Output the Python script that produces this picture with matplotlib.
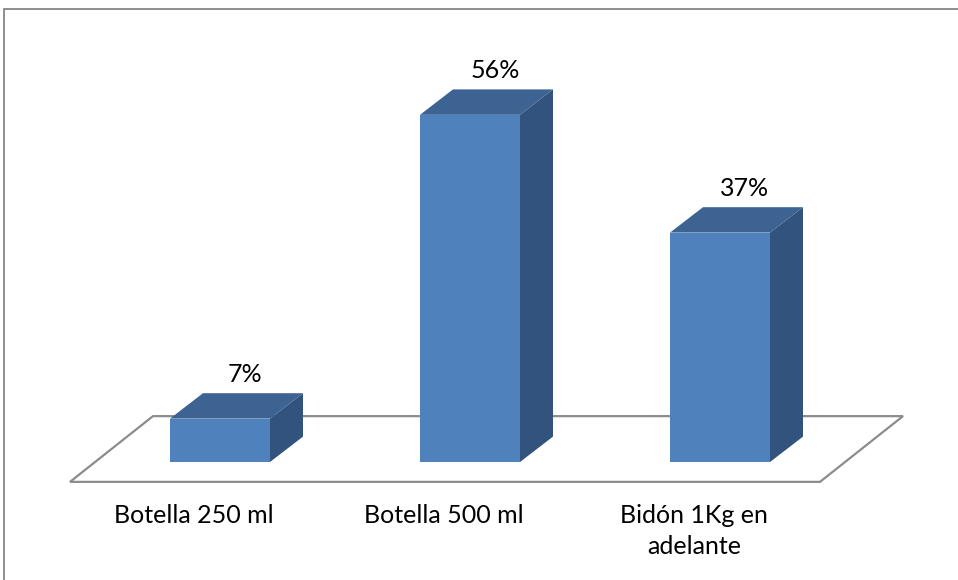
import matplotlib
matplotlib.use("Agg")
import matplotlib.pyplot as plt
from matplotlib.patches import Polygon, Rectangle

plt.rcParams['font.family'] = ['Lato', 'DejaVu Sans']

categories = ["Botella 250 ml", "Botella 500 ml", "Bidón 1Kg en\nadelante"]
values = [7, 56, 37]
value_labels = ["7%", "56%", "37%"]

FRONT = "#4F81BD"
TOP = "#3D6392"
SIDE = "#31537D"
FLOOR_EDGE = "#8C8C8C"

fig = plt.figure(figsize=(9.58, 5.80), dpi=100)
ax = fig.add_axes([0, 0, 1, 1])
ax.set_xlim(-0.88, 2.952)
ax.set_ylim(-19.03, 74.52)
ax.axis("off")

# outer chart frame (right and bottom edges fall outside the image)
fig.patches.append(Rectangle((4 / 958, -0.1), 1.2, (580 - 9) / 580 + 0.1,
                             transform=fig.transFigure, fill=False,
                             edgecolor="#868686", linewidth=1.3))

# perspective floor
half_w = 0.2
ddx, ddy = 0.132, 4.1           # bar depth offset
fx0, fx1, fy = -0.6, 2.4, -3.2  # floor front edge
fdx, fdy = 0.332, 10.6          # floor depth offset
floor = Polygon([(fx0, fy), (fx1, fy), (fx1 + fdx, fy + fdy), (fx0 + fdx, fy + fdy)],
                closed=True, facecolor="white", edgecolor=FLOOR_EDGE, linewidth=1.6,
                zorder=1)
ax.add_patch(floor)

for i, (v, lab) in enumerate(zip(values, value_labels)):
    x0, x1 = i - half_w, i + half_w
    side = Polygon([(x1, 0), (x1 + ddx, ddy), (x1 + ddx, v + ddy), (x1, v)],
                   closed=True, facecolor=SIDE, edgecolor="none", zorder=2)
    top = Polygon([(x0, v), (x1, v), (x1 + ddx, v + ddy), (x0 + ddx, v + ddy)],
                  closed=True, facecolor=TOP, edgecolor="none", zorder=2)
    front = Rectangle((x0, 0), x1 - x0, v, facecolor=FRONT, edgecolor="none", zorder=3)
    for p in (side, top, front):
        ax.add_patch(p)
    ax.text(i + 0.1, v + ddy + 3.0, lab, ha="center", va="center",
            fontsize=18, color="black", zorder=4)

for i, cat in enumerate(categories):
    ax.text(i - 0.104, -6.8, cat, ha="center", va="top", fontsize=18,
            color="black", linespacing=1.4)

fig.savefig("out.png", dpi=100, facecolor="white")
